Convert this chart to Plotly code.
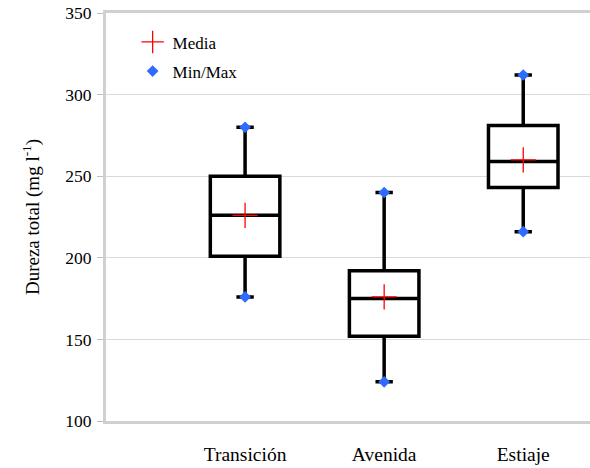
import plotly.graph_objects as go

categories = ["Transición", "Avenida", "Estiaje"]
minimum = [176, 124, 216]
q1 = [201, 152, 243]
median = [226, 175, 259]
mean = [226, 176, 260]
q3 = [250, 192, 281]
maximum = [280, 240, 312]
y_ticks = [100, 150, 200, 250, 300, 350]

positions = list(range(len(categories)))
FONT = "'Liberation Serif', 'Times New Roman', serif"

fig = go.Figure()
for i, cat in enumerate(categories):
    fig.add_trace(go.Box(
        x=[positions[i]], q1=[q1[i]], median=[median[i]], q3=[q3[i]],
        lowerfence=[minimum[i]], upperfence=[maximum[i]],
        width=0.5, whiskerwidth=0.25,
        line=dict(color="black", width=3.5), fillcolor="white",
        boxpoints=False, showlegend=False, hoverinfo="skip", name=cat,
    ))

fig.add_trace(go.Scatter(
    x=positions, y=mean, mode="markers", name="Media", legendgroup="a",
    marker=dict(symbol="cross-thin", size=18, line=dict(color="#ff0000", width=1.3), color="#ff0000"),
))
fig.add_trace(go.Scatter(
    x=positions + positions, y=minimum + maximum, mode="markers", name="Min/Max", legendgroup="b",
    marker=dict(symbol="diamond", size=9, color="#2f6bff"),
))

fig.update_layout(
    width=590, height=468,
    margin=dict(l=106, r=0, t=13, b=47),
    plot_bgcolor="white", paper_bgcolor="white",
    font=dict(family=FONT, size=17, color="black"),
    legend=dict(x=0.055, y=0.972, xanchor="left", yanchor="top",
                bgcolor="rgba(0,0,0,0)", font=dict(family=FONT, size=17),
                tracegroupgap=4, traceorder="grouped", itemsizing="trace", itemwidth=30),
    xaxis=dict(
        range=[-1.0, 2.48], tickvals=positions, ticktext=categories,
        showgrid=False, zeroline=False, showline=True, linecolor="#d0d0d0", linewidth=3,
        mirror=True, ticks="", ticklabelstandoff=14,
        tickfont=dict(family=FONT, size=19.5),
    ),
    yaxis=dict(
        range=[100, 350], tickvals=y_ticks, showgrid=True, gridcolor="#d9d9d9", gridwidth=1,
        zeroline=False, showline=True, linecolor="#d0d0d0", linewidth=3,
        ticks="outside", ticklen=6, tickcolor="#bfbfbf", tickwidth=1, ticklabelstandoff=2,
        tickfont=dict(family=FONT, size=17.5),
        title=dict(text="Dureza total (mg l<sup>-1</sup>)", font=dict(family=FONT, size=19), standoff=21),
    ),
)

fig.write_html("out.html", config={"displayModeBar": False},
               post_script="document.body.style.margin='0';")
